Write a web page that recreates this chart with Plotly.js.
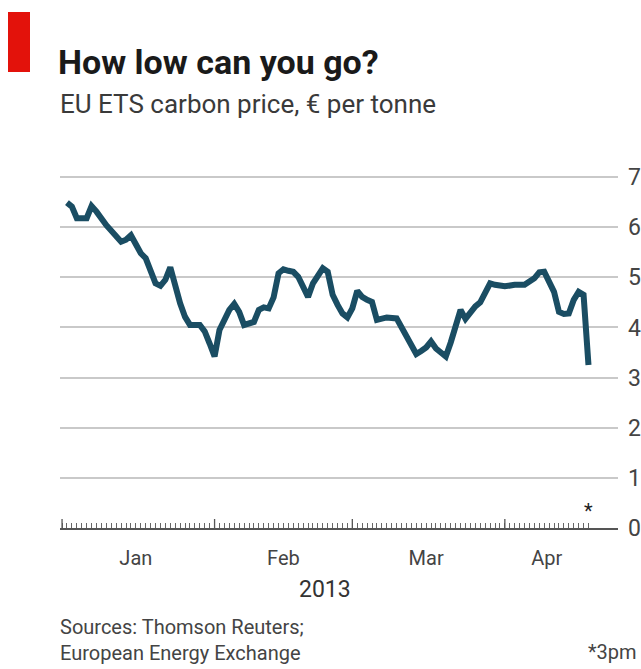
<!DOCTYPE html>
<html>
<head>
<meta charset="utf-8">
<script src="https://cdn.plot.ly/plotly-3.0.1.min.js"></script>
<style>
  html, body { margin: 0; padding: 0; background: #ffffff; }
  #chart { width: 641px; height: 669px; }
</style>
</head>
<body>
<div id="chart"></div>
<script>
// ---- Data ----
const dates = [
  '2013-01-02','2013-01-03','2013-01-04','2013-01-06','2013-01-07','2013-01-08','2013-01-10',
  '2013-01-12','2013-01-13','2013-01-14','2013-01-15','2013-01-16','2013-01-17','2013-01-18',
  '2013-01-19','2013-01-20','2013-01-21','2013-01-22','2013-01-23','2013-01-24','2013-01-25',
  '2013-01-26','2013-01-27','2013-01-29','2013-01-30','2013-01-31','2013-02-01','2013-02-02',
  '2013-02-04','2013-02-05','2013-02-06','2013-02-07','2013-02-08','2013-02-09','2013-02-10',
  '2013-02-11','2013-02-12','2013-02-13','2013-02-14','2013-02-15','2013-02-16','2013-02-17',
  '2013-02-18','2013-02-20','2013-02-21','2013-02-22','2013-02-23','2013-02-24','2013-02-25',
  '2013-02-26','2013-02-27','2013-02-28','2013-03-01','2013-03-02','2013-03-03','2013-03-04',
  '2013-03-05','2013-03-06','2013-03-07','2013-03-08','2013-03-10','2013-03-11','2013-03-12',
  '2013-03-13','2013-03-14','2013-03-15','2013-03-16','2013-03-17','2013-03-18','2013-03-19',
  '2013-03-20','2013-03-21','2013-03-22','2013-03-23','2013-03-24','2013-03-25','2013-03-26',
  '2013-03-27','2013-03-28','2013-03-29','2013-03-30','2013-04-01','2013-04-03','2013-04-05',
  '2013-04-07','2013-04-08','2013-04-09','2013-04-11','2013-04-12','2013-04-13','2013-04-14',
  '2013-04-15','2013-04-16','2013-04-17','2013-04-18'
];
const prices = [
  6.49, 6.41, 6.18, 6.18, 6.42, 6.31, 6.04,
  5.81, 5.71, 5.75, 5.84, 5.66, 5.48, 5.38,
  5.15, 4.88, 4.83, 4.95, 5.20, 4.81, 4.48,
  4.21, 4.05, 4.05, 3.92, 3.68, 3.42, 3.95,
  4.35, 4.47, 4.31, 4.05, 4.07, 4.11, 4.35,
  4.40, 4.38, 4.60, 5.08, 5.16, 5.13, 5.11,
  5.01, 4.61, 4.88, 5.05, 5.18, 5.11, 4.65,
  4.45, 4.28, 4.20, 4.38, 4.73, 4.61, 4.55,
  4.51, 4.15, 4.18, 4.20, 4.18, 4.01, 3.85,
  3.68, 3.47, 3.53, 3.60, 3.72, 3.58, 3.50,
  3.42, 3.70, 4.05, 4.35, 4.17, 4.31, 4.42,
  4.50, 4.68, 4.88, 4.85, 4.82, 4.85, 4.85,
  4.98, 5.10, 5.11, 4.71, 4.31, 4.27, 4.28,
  4.55, 4.71, 4.65, 3.25
];
const monthLabels = ['Jan', 'Feb', 'Mar', 'Apr'];
const monthLabelDates = ['2013-01-16', '2013-02-15', '2013-03-16', '2013-04-09 12:00'];
const monthStarts = ['2013-01-01', '2013-02-01', '2013-03-01', '2013-04-01'];
const yearLabel = '2013';
const yTickVals = [0, 1, 2, 3, 4, 5, 6, 7];
const yTickText = ['0', '1', '2', '3', '4', '5', '6', '7'];
const firstTickDay = '2013-01-01';
const lastTickDay = '2013-04-18';
const footnoteDate = '2013-04-18';

// ---- daily tick positions (axis furniture) ----
const dailyTicks = [];
{
  const d = new Date(firstTickDay + 'T00:00:00Z');
  const end = new Date(lastTickDay + 'T00:00:00Z');
  while (d <= end) {
    dailyTicks.push(d.toISOString().slice(0, 10));
    d.setUTCDate(d.getUTCDate() + 1);
  }
}

// ---- layout geometry ----
const W = 641, H = 669;
const M = { l: 60, r: 23, t: 167, b: 141 };
const PW = W - M.l - M.r, PH = H - M.t - M.b;
const px = x => (x - M.l) / PW;            // pixel x -> paper x
const py = y => (H - M.b - y) / PH;        // pixel y -> paper y

const FONT = 'Roboto, "Open Sans", sans-serif';
const lineColor = '#1a4d63';

const trace = {
  type: 'scatter',
  mode: 'lines',
  x: dates,
  y: prices,
  line: { color: lineColor, width: 6, shape: 'linear' },
  hoverinfo: 'x+y',
  showlegend: false
};

// taller month-start ticks on the baseline
const monthTickShapes = monthStarts.map(d => ({
  type: 'line', xref: 'x', yref: 'paper',
  x0: d, x1: d, y0: 0, y1: 9 / PH,
  line: { color: '#555555', width: 1.3 }, layer: 'above'
}));

const layout = {
  width: W,
  height: H,
  margin: M,
  paper_bgcolor: '#ffffff',
  plot_bgcolor: '#ffffff',
  font: { family: FONT, color: '#333333' },
  title: {
    text: 'How low can you go?',
    font: { family: FONT, size: 34, color: '#1a1a1a', weight: 'bold' },
    xref: 'container', yref: 'container',
    x: 58 / W, xanchor: 'left',
    y: 1 - 62 / H, yanchor: 'middle'
  },
  xaxis: {
    type: 'date',
    range: ['2012-12-31 14:00', '2013-04-24 00:00'],
    tickmode: 'array',
    tickvals: monthLabelDates,
    ticktext: monthLabels,
    ticks: '',
    showgrid: false,
    zeroline: false,
    showline: true,
    linecolor: '#555555',
    linewidth: 1.5,
    tickfont: { family: FONT, size: 20, color: '#444444' },
    ticklabelstandoff: 11,
    minor: {
      tickmode: 'array',
      tickvals: dailyTicks,
      ticks: 'inside',
      ticklen: 5,
      tickwidth: 1,
      tickcolor: '#666666',
      showgrid: false
    },
    fixedrange: true
  },
  yaxis: {
    range: [0, 7.2],
    side: 'right',
    tickmode: 'array',
    tickvals: yTickVals,
    ticktext: yTickText,
    ticks: '',
    showgrid: true,
    gridcolor: '#c9c9c9',
    gridwidth: 2,
    zeroline: false,
    showline: false,
    tickfont: { family: FONT, size: 23, color: '#444444' },
    ticklabelstandoff: 9,
    fixedrange: true
  },
  shapes: [
    {
      type: 'rect', xref: 'paper', yref: 'paper',
      x0: px(8), x1: px(30), y0: py(72), y1: py(12),
      fillcolor: '#e3120b', line: { width: 0 }, layer: 'above'
    }
  ].concat(monthTickShapes),
  annotations: [
    {
      text: 'EU ETS carbon price, € per tonne',
      xref: 'paper', yref: 'paper',
      x: px(58), y: py(104), xanchor: 'left', yanchor: 'middle',
      showarrow: false,
      font: { family: FONT, size: 26, color: '#3a3a3a' }
    },
    {
      text: yearLabel,
      xref: 'paper', yref: 'paper',
      x: px(325), y: py(589), xanchor: 'center', yanchor: 'middle',
      showarrow: false,
      font: { family: FONT, size: 23, color: '#333333' }
    },
    {
      text: '*',
      xref: 'x', yref: 'paper',
      x: footnoteDate, y: py(511), xanchor: 'center', yanchor: 'middle',
      showarrow: false,
      font: { family: FONT, size: 20, color: '#222222' }
    },
    {
      text: 'Sources: Thomson Reuters;<br>European Energy Exchange',
      xref: 'paper', yref: 'paper',
      x: px(58), y: py(640), xanchor: 'left', yanchor: 'middle',
      align: 'left',
      showarrow: false,
      font: { family: FONT, size: 20, color: '#444444' }
    },
    {
      text: '*3pm',
      xref: 'paper', yref: 'paper',
      x: px(639), y: py(652), xanchor: 'right', yanchor: 'middle',
      showarrow: false,
      font: { family: FONT, size: 20, color: '#444444' }
    }
  ]
};

Plotly.newPlot('chart', [trace], layout, { staticPlot: true, displayModeBar: false });
</script>
</body>
</html>
